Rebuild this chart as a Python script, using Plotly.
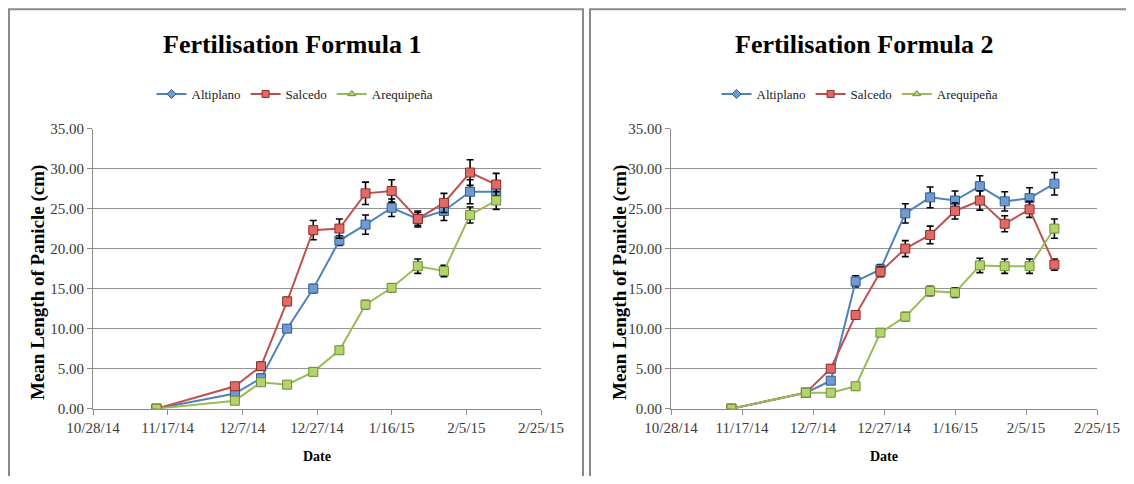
import plotly.graph_objects as go

# ---------------- data ----------------
dates = ["2014-11-14", "2014-12-05", "2014-12-12", "2014-12-19", "2014-12-26", "2015-01-02",
         "2015-01-09", "2015-01-16", "2015-01-23", "2015-01-30", "2015-02-06", "2015-02-13"]
series_names = ["Altiplano", "Salcedo", "Arequipeña"]

# Fertilisation Formula 1
f1_altiplano = [0.0, 1.9, 3.8, 10.0, 15.0, 21.0, 23.0, 25.1, 23.7, 24.7, 27.1, 27.1]
f1_salcedo = [0.0, 2.8, 5.3, 13.4, 22.3, 22.5, 26.9, 27.2, 23.7, 25.7, 29.5, 28.0]
f1_arequipena = [0.0, 1.0, 3.3, 3.0, 4.6, 7.3, 13.0, 15.1, 17.8, 17.2, 24.2, 26.0]
f1_err_altiplano = [0.1, 0.3, 0.5, 0.4, 0.5, 0.6, 1.2, 1.1, 1.0, 1.2, 1.5, 1.0]
f1_err_salcedo = [0.1, 0.4, 0.5, 0.5, 1.2, 1.2, 1.4, 1.4, 0.8, 1.2, 1.6, 1.4]
f1_err_arequipena = [0.1, 0.3, 0.3, 0.3, 0.3, 0.4, 0.5, 0.5, 0.9, 0.7, 1.0, 1.1]

# Fertilisation Formula 2
f2_altiplano = [0.0, 2.0, 3.5, 15.9, 17.4, 24.4, 26.4, 26.0, 27.8, 25.9, 26.3, 28.1]
f2_salcedo = [0.0, 2.0, 5.0, 11.7, 17.1, 20.0, 21.7, 24.7, 26.0, 23.1, 24.9, 18.0]
f2_arequipena = [0.0, 2.0, 2.0, 2.8, 9.5, 11.5, 14.7, 14.5, 17.9, 17.8, 17.8, 22.5]
f2_err_altiplano = [0.1, 0.3, 0.4, 0.7, 0.6, 1.2, 1.3, 1.2, 1.3, 1.2, 1.3, 1.4]
f2_err_salcedo = [0.1, 0.3, 0.4, 0.5, 0.6, 1.0, 1.1, 1.0, 1.2, 1.0, 1.0, 0.7]
f2_err_arequipena = [0.1, 0.3, 0.3, 0.4, 0.4, 0.5, 0.6, 0.6, 0.9, 0.9, 0.9, 1.2]

titles = ["Fertilisation Formula 1", "Fertilisation Formula 2"]
y_title = "Mean Length of Panicle (cm)"
x_title = "Date"

# ---------------- styling ----------------
line_colors = ["#4F81BD", "#C0504D", "#9BBB59"]
fill_colors = ["#6F9BD1", "#E06A66", "#B3D36D"]
edge_colors = ["#2E5B8E", "#8E2D2A", "#6E8C34"]
legend_symbols = ["diamond", "square", "triangle-up"]

# page body has an 8px margin: keep the figure inside the 1134x484 window
OX, OY = 8, 8
W, H = 1134 - 2 * OX, 484 - 2 * OY
FONT = "Liberation Serif"

fig = go.Figure()

panels = [
    ([f1_altiplano, f1_salcedo, f1_arequipena],
     [f1_err_altiplano, f1_err_salcedo, f1_err_arequipena], "x", "y", "legend"),
    ([f2_altiplano, f2_salcedo, f2_arequipena],
     [f2_err_altiplano, f2_err_salcedo, f2_err_arequipena], "x2", "y2", "legend2"),
]

for vals, errs, xa, ya, lg in panels:
    for i, name in enumerate(series_names):
        fig.add_trace(go.Scatter(
            x=dates, y=vals[i], mode="lines+markers", name=name,
            xaxis=xa, yaxis=ya, showlegend=False,
            line=dict(color=line_colors[i], width=2),
            marker=dict(symbol="square", size=9, color=fill_colors[i],
                        line=dict(color=edge_colors[i], width=1)),
            error_y=dict(type="data", array=errs[i], visible=True,
                         color="black", thickness=1.6, width=3.5),
        ))
    for i, name in enumerate(series_names):
        fig.add_trace(go.Scatter(
            x=[None], y=[None], mode="lines+markers", name=name,
            xaxis=xa, yaxis=ya, legend=lg, showlegend=True,
            line=dict(color=line_colors[i], width=2),
            marker=dict(symbol=legend_symbols[i], size=7, color=fill_colors[i],
                        line=dict(color=edge_colors[i], width=1)),
        ))


def px(v):
    return (v - OX) / W


def py(v):
    return 1 - (v - OY) / H


ydom = [py(408.7), py(128.5)]
xdoms = [[px(93), px(541)], [px(671), px(1097)]]

axis_common_x = dict(
    type="date", range=["2014-10-28", "2015-02-25"], tick0="2014-10-28",
    dtick=20 * 86400000, tickformat="%-m/%-d/%y", showgrid=False,
    showline=True, linecolor="#8c8c8c", linewidth=1,
    ticks="outside", ticklen=5, tickcolor="#8c8c8c",
    tickfont=dict(family=FONT, size=15, color="#3a3a3a"), zeroline=False,
)
axis_common_y = dict(
    range=[0, 35], dtick=5, tickformat=".2f", showgrid=True,
    gridcolor="#949494", gridwidth=1.3,
    showline=True, linecolor="#8c8c8c", linewidth=1,
    ticks="outside", ticklen=5, tickcolor="#8c8c8c",
    tickfont=dict(family=FONT, size=15, color="#3a3a3a"), zeroline=False,
)

legend_common = dict(orientation="h", xanchor="center", yanchor="middle",
                     font=dict(family=FONT, size=13, color="#202020"),
                     bgcolor="rgba(0,0,0,0)", itemwidth=30)

fig.update_layout(
    width=W, height=H, autosize=False,
    margin=dict(l=0, r=0, t=0, b=0, autoexpand=False),
    paper_bgcolor="white", plot_bgcolor="white",
    xaxis=dict(domain=xdoms[0], anchor="y", **axis_common_x),
    yaxis=dict(domain=ydom, anchor="x", **axis_common_y),
    xaxis2=dict(domain=xdoms[1], anchor="y2", **axis_common_x),
    yaxis2=dict(domain=ydom, anchor="x2", **axis_common_y),
    legend=dict(x=px(295), y=py(94), **legend_common),
    legend2=dict(x=px(860), y=py(94), **legend_common),
    showlegend=True,
)

annotations = []
for cx, t in [(292, titles[0]), (864, titles[1])]:
    annotations.append(dict(text="<b>" + t + "</b>", x=px(cx), y=py(45), xref="paper", yref="paper",
                            showarrow=False, xanchor="center", yanchor="middle",
                            font=dict(family=FONT, size=26, color="black")))
for cx in [38, 620]:
    annotations.append(dict(text="<b>" + y_title + "</b>", x=px(cx), y=py(283), xref="paper", yref="paper",
                            showarrow=False, textangle=-90, xanchor="center", yanchor="middle",
                            font=dict(family=FONT, size=19, color="black")))
for cx in [317, 884]:
    annotations.append(dict(text="<b>" + x_title + "</b>", x=px(cx), y=py(456), xref="paper", yref="paper",
                            showarrow=False, xanchor="center", yanchor="middle",
                            font=dict(family=FONT, size=14, color="black")))
fig.update_layout(annotations=annotations)

# panel borders
shapes = [
    dict(type="rect", xref="paper", yref="paper", x0=px(9), x1=px(583), y0=py(520), y1=py(9.2),
         line=dict(color="#8a8a8a", width=2), fillcolor="rgba(0,0,0,0)", layer="below"),
    dict(type="rect", xref="paper", yref="paper", x0=px(590), x1=px(1160), y0=py(520), y1=py(9.2),
         line=dict(color="#8a8a8a", width=2), fillcolor="rgba(0,0,0,0)", layer="below"),
]
fig.update_layout(shapes=shapes)

fig.write_html("out.html")
